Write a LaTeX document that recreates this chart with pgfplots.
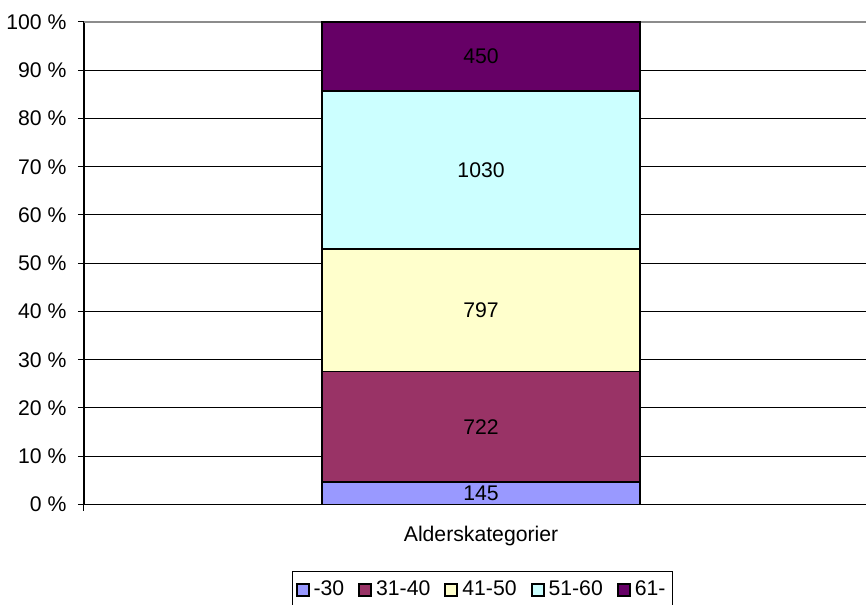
\documentclass[border=0pt]{standalone}
\usepackage{pgfplots}
\pgfplotsset{compat=1.18}
\usepackage{pgfplotstable}
\usepackage{fontspec}
\setmainfont{Liberation Sans}
\definecolor{c1}{HTML}{9999FF}
\definecolor{c2}{HTML}{993366}
\definecolor{c3}{HTML}{FFFFCC}
\definecolor{c4}{HTML}{CCFFFF}
\definecolor{c5}{HTML}{660066}
\pgfplotstableread{
x p n
0 4.612 145
}\tA
\pgfplotstableread{
x p n
0 22.964 722
}\tB
\pgfplotstableread{
x p n
0 25.350 797
}\tC
\pgfplotstableread{
x p n
0 32.761 1030
}\tD
\pgfplotstableread{
x p n
0 14.313 450
}\tE
\begin{document}
\begin{tikzpicture}[font=\fontsize{10.6bp}{12.5bp}\selectfont]
\path[use as bounding box] (-42bp,-50.25bp) rectangle (391bp,252.25bp);
\begin{axis}[
  at={(0,0)}, anchor=south west,
  scale only axis, width=391bp, height=241.25bp,
  ybar stacked, bar width=159bp,
  xmin=-1.2485, xmax=1.2105,
  ymin=0, ymax=100,
  axis x line*=bottom, axis y line*=left,
  axis line style={black, line width=0.75bp, -},
  xtick={-1.2485}, xticklabels={},
  extra x ticks={0}, extra x tick labels={Alderskategorier},
  extra x tick style={major tick length=0pt, xticklabel style={anchor=base, inner sep=0pt, yshift=-18.25bp}},
  ytick={0,10,...,90},
  yticklabels={0 \%,10 \%,20 \%,30 \%,40 \%,50 \%,60 \%,70 \%,80 \%,90 \%},
  extra y ticks={100}, extra y tick labels={100 \%},
  extra y tick style={grid style={gray!90, line width=1bp}},
  yticklabel style={anchor=east, inner sep=0pt, xshift=-5.6bp},
  tick align=outside, major tick length=3bp,
  tick style={black, line width=0.5bp},
  ymajorgrids, grid style={black, line width=0.5bp},
  point meta=explicit symbolic,
  nodes near coords,
  every node near coord/.append style={anchor=center, inner sep=0pt, black},
  legend columns=5,
  legend style={at={(199.25bp,-33bp)}, anchor=north, draw=black, line width=0.5bp,
    inner xsep=1.5bp, inner ysep=4bp,
    nodes={inner xsep=2bp, inner ysep=1bp},
    /tikz/every even column/.append style={column sep=5bp}},
  legend image code/.code={\draw[#1, draw=black, line width=1bp] (0bp,-3bp) rectangle (6bp,3bp);},
]
\addplot[fill=c1, draw=black, line width=0.75bp] table[x=x, y=p, meta=n] {\tA};
\addplot[fill=c2, draw=black, line width=0.75bp] table[x=x, y=p, meta=n] {\tB};
\addplot[fill=c3, draw=black, line width=0.75bp] table[x=x, y=p, meta=n] {\tC};
\addplot[fill=c4, draw=black, line width=0.75bp] table[x=x, y=p, meta=n] {\tD};
\addplot[fill=c5, draw=black, line width=0.75bp] table[x=x, y=p, meta=n] {\tE};
\legend{-30,31-40,41-50,51-60,61-}
\end{axis}
\end{tikzpicture}
\end{document}
